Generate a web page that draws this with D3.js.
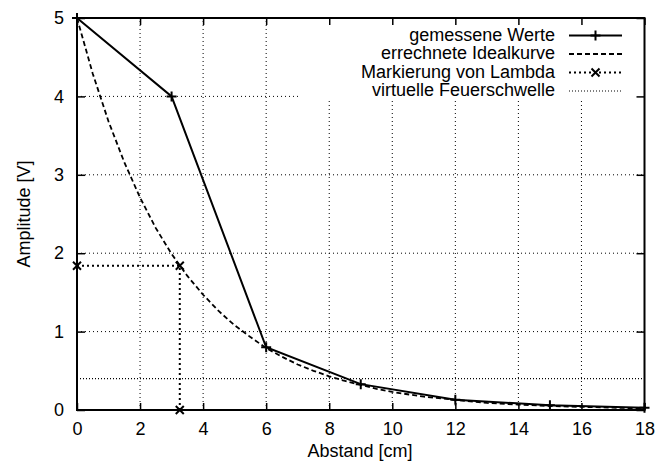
<!DOCTYPE html>
<html>
<head>
<meta charset="utf-8">
<script src="https://cdn.jsdelivr.net/npm/d3@7"></script>
<style>
  body { margin: 0; background: white; }
  svg { display: block; }
</style>
</head>
<body>
<svg id="chart"></svg>
<script>
// gemessene Werte
var measX = [0, 3, 6, 9, 12, 15, 18];
var measY = [5, 4, 0.8, 0.33, 0.13, 0.06, 0.03];

// errechnete Idealkurve
var idealX = [0, 0.5, 1, 1.5, 2, 2.5, 3, 3.5, 4, 4.5, 5, 5.5, 6, 6.5, 7, 7.5, 8, 8.5, 9, 9.5, 10, 11, 12, 13, 14, 15, 16, 17, 18];
var idealY = [5, 4.29, 3.68, 3.16, 2.71, 2.32, 1.99, 1.71, 1.47, 1.26, 1.08, 0.93, 0.79, 0.68, 0.58, 0.50, 0.43, 0.37, 0.32, 0.27, 0.23, 0.17, 0.13, 0.09, 0.07, 0.05, 0.04, 0.03, 0.02];

// Markierung von Lambda
var lambdaX = [0, 3.26, 3.26];
var lambdaY = [1.84, 1.84, 0];

// virtuelle Feuerschwelle
var threshold = 0.4;

var xTicks = [0, 2, 4, 6, 8, 10, 12, 14, 16, 18];
var yTicks = [0, 1, 2, 3, 4, 5];

var legendLabels = ["gemessene Werte", "errechnete Idealkurve", "Markierung von Lambda", "virtuelle Feuerschwelle"];

var svg = d3.select("#chart")
    .attr("width", 657)
    .attr("height", 468);

var pLeft = 77, pRight = 644.5, pTop = 18, pBottom = 410;
var font = "'Liberation Sans', Arial, sans-serif";
var fs = "18px";

var x = d3.scaleLinear().domain([0, 18]).range([pLeft, pRight]);
var y = d3.scaleLinear().domain([0, 5]).range([pBottom, pTop]);

// grid
var grid = svg.append("g");
grid.selectAll("line.gx")
    .data(xTicks.slice(1, -1))
    .enter().append("line")
    .attr("x1", function(d) { return x(d); })
    .attr("x2", function(d) { return x(d); })
    .attr("y1", pBottom)
    .attr("y2", pTop)
    .attr("stroke", "#000")
    .attr("stroke-width", 1)
    .attr("stroke-dasharray", "1,3");
grid.selectAll("line.gy")
    .data(yTicks.slice(1, -1))
    .enter().append("line")
    .attr("x1", pLeft)
    .attr("x2", pRight)
    .attr("y1", function(d) { return y(d); })
    .attr("y2", function(d) { return y(d); })
    .attr("stroke", "#000")
    .attr("stroke-width", 1)
    .attr("stroke-dasharray", "1,3");

// opaque key box hides the grid behind the legend
svg.append("rect")
    .attr("x", 299)
    .attr("y", pTop)
    .attr("width", pRight - 299)
    .attr("height", 82)
    .attr("fill", "white");

// threshold
svg.append("line")
    .attr("x1", x(0))
    .attr("x2", x(18))
    .attr("y1", y(threshold))
    .attr("y2", y(threshold))
    .attr("stroke", "#000")
    .attr("stroke-width", 1.2)
    .attr("stroke-dasharray", "1,2");

// ideal curve
var idealLine = d3.line()
    .x(function(d, i) { return x(idealX[i]); })
    .y(function(d, i) { return y(idealY[i]); });
svg.append("path")
    .attr("d", idealLine(idealX))
    .attr("fill", "none")
    .attr("stroke", "#000")
    .attr("stroke-width", 1.8)
    .attr("stroke-dasharray", "5,3");

// lambda
var lambdaLine = d3.line()
    .x(function(d, i) { return x(lambdaX[i]); })
    .y(function(d, i) { return y(lambdaY[i]); });
svg.append("path")
    .attr("d", lambdaLine(lambdaX))
    .attr("fill", "none")
    .attr("stroke", "#000")
    .attr("stroke-width", 2)
    .attr("stroke-dasharray", "2,3");

function cross(g, cx, cy) {
    var s = 4;
    g.append("path")
        .attr("d", "M" + (cx - s) + "," + (cy - s) + "L" + (cx + s) + "," + (cy + s) +
                   "M" + (cx - s) + "," + (cy + s) + "L" + (cx + s) + "," + (cy - s))
        .attr("stroke", "#000")
        .attr("stroke-width", 2);
}
function plus(g, cx, cy) {
    var s = 5;
    g.append("path")
        .attr("d", "M" + (cx - s) + "," + cy + "L" + (cx + s) + "," + cy +
                   "M" + cx + "," + (cy - s) + "L" + cx + "," + (cy + s))
        .attr("stroke", "#000")
        .attr("stroke-width", 2);
}

var marks = svg.append("g");
lambdaX.forEach(function(d, i) { cross(marks, x(d), y(lambdaY[i])); });

// measured values
var measLine = d3.line()
    .x(function(d, i) { return x(measX[i]); })
    .y(function(d, i) { return y(measY[i]); });
svg.append("path")
    .attr("d", measLine(measX))
    .attr("fill", "none")
    .attr("stroke", "#000")
    .attr("stroke-width", 2);
measX.forEach(function(d, i) { plus(marks, x(d), y(measY[i])); });

// border
svg.append("rect")
    .attr("x", pLeft)
    .attr("y", pTop)
    .attr("width", pRight - pLeft)
    .attr("height", pBottom - pTop)
    .attr("fill", "none")
    .attr("stroke", "#000")
    .attr("stroke-width", 2);

// ticks, inward and mirrored
var fmt = d3.format("d");
var axB = svg.append("g").attr("transform", "translate(0," + pBottom + ")")
    .call(d3.axisBottom(x).tickValues(xTicks).tickFormat(fmt).tickSizeInner(-7).tickSizeOuter(0).tickPadding(12));
var axT = svg.append("g").attr("transform", "translate(0," + pTop + ")")
    .call(d3.axisTop(x).tickValues(xTicks).tickSizeInner(-7).tickSizeOuter(0).tickFormat(""));
var axL = svg.append("g").attr("transform", "translate(" + pLeft + ",0)")
    .call(d3.axisLeft(y).tickValues(yTicks).tickFormat(fmt).tickSizeInner(-8).tickSizeOuter(0).tickPadding(13));
var axR = svg.append("g").attr("transform", "translate(" + pRight + ",0)")
    .call(d3.axisRight(y).tickValues(yTicks).tickSizeInner(-8).tickSizeOuter(0).tickFormat(""));

[axB, axT, axL, axR].forEach(function(a) {
    a.select(".domain").remove();
    a.selectAll(".tick line").attr("stroke", "#000").attr("stroke-width", 1.5);
    a.selectAll("text")
        .attr("font-family", font)
        .attr("font-size", fs)
        .attr("fill", "#000");
});

// axis titles
svg.append("text")
    .attr("x", 360)
    .attr("y", 456.5)
    .attr("text-anchor", "middle")
    .attr("font-family", font)
    .attr("font-size", fs)
    .text("Abstand [cm]");

svg.append("text")
    .attr("transform", "translate(30,214) rotate(-90)")
    .attr("text-anchor", "middle")
    .attr("font-family", font)
    .attr("font-size", fs)
    .text("Amplitude [V]");

// legend
var key = svg.append("g");
var rowY = [35.5, 54, 72.5, 91];
var sx1 = 569, sx2 = 622;
legendLabels.forEach(function(label, i) {
    key.append("text")
        .attr("x", 555)
        .attr("y", rowY[i])
        .attr("dy", "0.3em")
        .attr("text-anchor", "end")
        .attr("font-family", font)
        .attr("font-size", fs)
        .text(label);
});
key.append("line")
    .attr("x1", sx1).attr("x2", sx2).attr("y1", rowY[0]).attr("y2", rowY[0])
    .attr("stroke", "#000").attr("stroke-width", 2);
plus(key, (sx1 + sx2) / 2, rowY[0]);
key.append("line")
    .attr("x1", sx1).attr("x2", sx2).attr("y1", rowY[1]).attr("y2", rowY[1])
    .attr("stroke", "#000").attr("stroke-width", 1.8).attr("stroke-dasharray", "5,3");
key.append("line")
    .attr("x1", sx1).attr("x2", sx2).attr("y1", rowY[2]).attr("y2", rowY[2])
    .attr("stroke", "#000").attr("stroke-width", 2).attr("stroke-dasharray", "2,3");
cross(key, (sx1 + sx2) / 2, rowY[2]);
key.append("line")
    .attr("x1", sx1).attr("x2", sx2).attr("y1", rowY[3]).attr("y2", rowY[3])
    .attr("stroke", "#000").attr("stroke-width", 1.2).attr("stroke-dasharray", "1,2");
</script>
</body>
</html>
